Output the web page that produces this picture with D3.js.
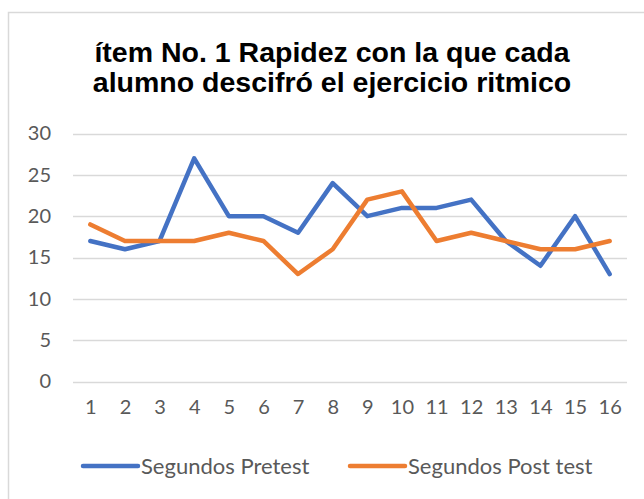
<!DOCTYPE html>
<html>
<head>
<meta charset="utf-8">
<script src="https://cdn.jsdelivr.net/npm/d3@7"></script>
<style>
  html, body { margin: 0; padding: 0; background: #fff; }
  svg { display: block; }
</style>
</head>
<body>
<svg id="chart" width="644" height="499"></svg>
<script>
const categories = ["1","2","3","4","5","6","7","8","9","10","11","12","13","14","15","16"];
const pretest = [17,16,17,27,20,20,18,24,20,21,21,22,17,14,20,13];
const posttest = [19,17,17,17,18,17,13,16,22,23,17,18,17,16,16,17];
const yTicks = [0,5,10,15,20,25,30];
const seriesNames = ["Segundos Pretest", "Segundos Post test"];
const titleLines = ["ítem No. 1 Rapidez con la que cada", "alumno descifró el ejercicio ritmico"];

const colors = ["#4472C4", "#ED7D31"];
const svg = d3.select("#chart");

// outer frame
svg.append("rect").attr("x", 8.5).attr("y", 12.5).attr("width", 700).attr("height", 600)
  .attr("fill", "#fff").attr("stroke", "#d9d9d9").attr("stroke-width", 1.5);

// title
svg.append("text").attr("x", 332).attr("y", 62)
  .attr("text-anchor", "middle")
  .style("font-family", "'Liberation Sans', Arial, sans-serif")
  .style("font-weight", "bold").style("font-size", "28.5px").attr("fill", "#000")
  .selectAll("tspan").data(titleLines).join("tspan")
  .attr("x", 332).attr("dy", (d, i) => i === 0 ? 0 : 30).text(d => d);

const x = d3.scalePoint().domain(categories).range([73, 627]).padding(0.5);
const y = d3.scaleLinear().domain([0, 30]).range([381.5, 133.5]);

// grid
svg.append("g").selectAll("line").data(yTicks).join("line")
  .attr("x1", 73).attr("x2", 627)
  .attr("y1", d => Math.round(y(d)) + 0.5).attr("y2", d => Math.round(y(d)) + 0.5)
  .attr("stroke", "#d9d9d9").attr("stroke-width", 1.5);

const font = "Lato, 'Open Sans', sans-serif";

// y axis labels
const yAxis = d3.axisLeft(y).tickValues(yTicks).tickSize(0).tickPadding(0);
const yg = svg.append("g").attr("transform", "translate(51,0)").call(yAxis);
yg.select(".domain").remove();
yg.selectAll("text").style("font-family", font).style("font-size", "20px").attr("fill", "#595959");

// x axis labels
const xAxis = d3.axisBottom(x).tickSize(0).tickPadding(0);
const xg = svg.append("g").attr("transform", "translate(0,400)").call(xAxis);
xg.select(".domain").remove();
xg.selectAll("text").style("font-family", font).style("font-size", "20px").attr("fill", "#595959");

// lines
const line = d3.line().x((d, i) => x(categories[i])).y(d => y(d));
[pretest, posttest].forEach((s, k) => {
  svg.append("path").datum(s).attr("d", line)
    .attr("fill", "none").attr("stroke", colors[k]).attr("stroke-width", 4.5)
    .attr("stroke-linejoin", "round").attr("stroke-linecap", "round");
});

// legend
const legendX = [83, 350];
const lg = svg.append("g").selectAll("g").data(seriesNames).join("g")
  .attr("transform", (d, i) => `translate(${legendX[i]},466)`);
lg.append("line").attr("x1", 0).attr("x2", 55).attr("y1", 0).attr("y2", 0)
  .attr("stroke", (d, i) => colors[i]).attr("stroke-width", 4.5).attr("stroke-linecap", "round");
lg.append("text").attr("x", 58).attr("y", 0).attr("dy", "0.35em")
  .style("font-family", font).style("font-size", "22px").attr("fill", "#595959").text(d => d);
</script>
</body>
</html>
